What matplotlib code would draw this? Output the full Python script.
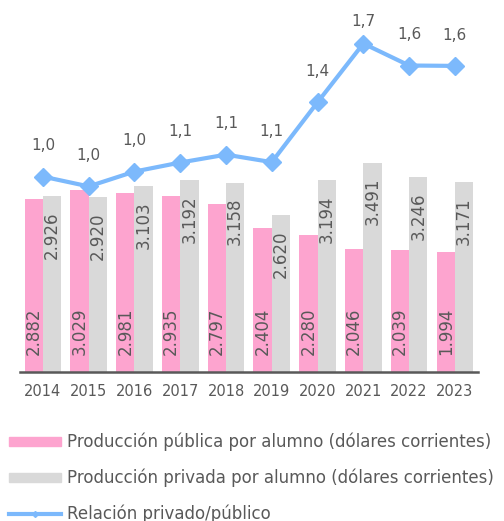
import matplotlib.pyplot as plt
import numpy as np
from matplotlib.patches import Patch
from matplotlib.lines import Line2D

years = ['2014', '2015', '2016', '2017', '2018', '2019', '2020', '2021', '2022', '2023']
publica = [2882, 3029, 2981, 2935, 2797, 2404, 2280, 2046, 2039, 1994]
privada = [2926, 2920, 3103, 3192, 3158, 2620, 3194, 3491, 3246, 3171]
relacion = [1.015, 0.964, 1.041, 1.088, 1.129, 1.090, 1.401, 1.706, 1.592, 1.590]

pink = '#fda4cf'
grey = '#d9d9d9'
blue = '#7cb9fc'
txt = '#595959'

fig = plt.figure(figsize=(5.04, 5.21), dpi=100)
ax = fig.add_axes([0.0397, 0.286, 0.9083, 0.691])

x = np.arange(len(years))
w = 0.4
ax.bar(x - w / 2, publica, w, color=pink)
ax.bar(x + w / 2, privada, w, color=grey)

fmt = lambda v: f'{v:,}'.replace(',', '.')
for i in range(len(years)):
    ax.annotate(fmt(publica[i]), (x[i] - w / 2, 0), xytext=(0, 12), textcoords='offset points',
                rotation=90, ha='center', va='bottom', fontsize=12, color=txt)
    ax.annotate(fmt(privada[i]), (x[i] + w / 2, privada[i]), xytext=(0, -11), textcoords='offset points',
                rotation=90, ha='center', va='top', fontsize=12, color=txt)

ax.set_xlim(-0.5, len(years) - 0.5)
ax.set_ylim(0, 6000)
ax.set_xticks(x)
ax.set_xticklabels(years, fontsize=10.5, color=txt)
ax.tick_params(axis='x', length=0, pad=9)
ax.set_yticks([])
for s in ['top', 'right', 'left']:
    ax.spines[s].set_visible(False)
ax.spines['bottom'].set_color(txt)
ax.spines['bottom'].set_linewidth(1.8)

ax2 = ax.twinx()
ax2.plot(x, relacion, color=blue, lw=3, marker='D', markersize=9)
for i, v in enumerate(relacion):
    ax2.text(x[i], min(v + 0.16, 1.82), f'{v:.1f}'.replace('.', ','), ha='center', va='center',
             fontsize=11, color=txt)
ax2.set_ylim(0, 1.87)
ax2.set_yticks([])
for s in ax2.spines.values():
    s.set_visible(False)

handles = [Patch(color=pink), Patch(color=grey),
           Line2D([], [], color=blue, lw=3, marker='D', markersize=3)]
labels = ['Producción pública por alumno (dólares corrientes)',
          'Producción privada por alumno (dólares corrientes)',
          'Relación privado/público']
leg = fig.legend(handles, labels, loc='upper left', bbox_to_anchor=(0.005, 0.182), frameon=False,
                 fontsize=12, labelcolor=txt, handlelength=3.1, handleheight=0.5,
                 handletextpad=0.36, labelspacing=1.04, borderaxespad=0)

fig.savefig('out.png', dpi=100)
